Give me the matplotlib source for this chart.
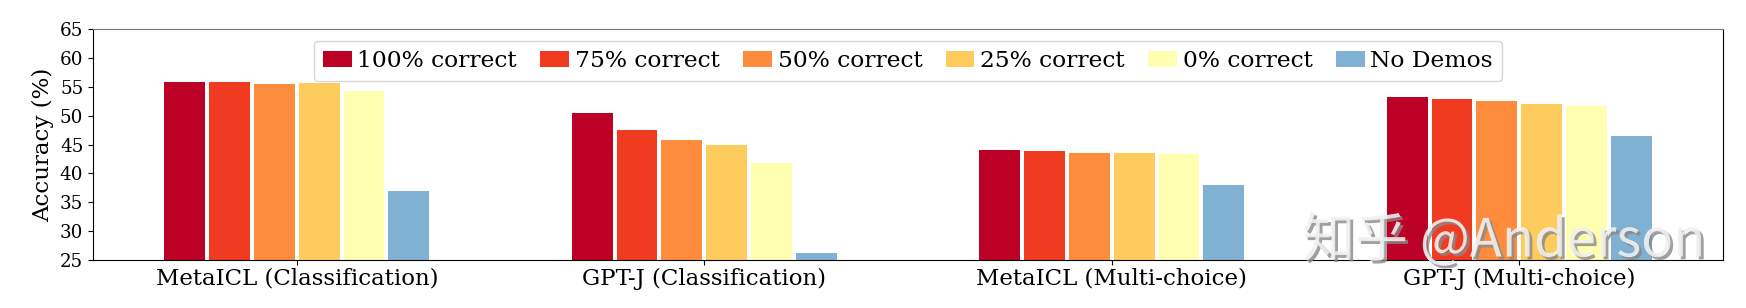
import matplotlib.pyplot as plt
import matplotlib.patheffects as pe
import numpy as np

import matplotlib
matplotlib.rcParams['font.family'] = 'DejaVu Serif'

groups = ['MetaICL (Classification)', 'GPT-J (Classification)',
          'MetaICL (Multi-choice)', 'GPT-J (Multi-choice)']
series = ['100% correct', '75% correct', '50% correct', '25% correct',
          '0% correct', 'No Demos']
acc_100 = [55.8, 50.5, 44.0, 53.2]
acc_75 = [55.8, 47.5, 43.9, 52.9]
acc_50 = [55.5, 45.8, 43.5, 52.5]
acc_25 = [55.7, 44.9, 43.5, 52.0]
acc_0 = [54.3, 41.8, 43.4, 51.7]
acc_none = [36.9, 26.2, 38.0, 46.5]

colors = ['#bd0026', '#f03b20', '#fd8d3c', '#fecc5c', '#ffffb2', '#80b1d3']

x = np.arange(len(groups))  # group centers
step = 0.11
width = 0.1

fig, ax = plt.subplots()
fig.set_size_inches(17.46, 3.08)

data = [acc_100, acc_75, acc_50, acc_25, acc_0, acc_none]
for i, d in enumerate(data):
    ax.bar(x + (i - 2.5) * step, d, width, label=series[i], color=colors[i])

ax.set_ylabel('Accuracy (%)', fontsize=16.5)
ax.set_xticks(x, groups, fontsize=16.5)
ax.tick_params(axis='y', labelsize=13.2)
ax.tick_params(axis='x', pad=2)
ax.set_xlim(-0.5, 3.5)
ax.set_ylim(25, 65)
ax.set_yticks(np.arange(25, 66, 5))
ax.spines['top'].set_color('#777777')

ax.legend(loc='upper center', ncol=6, fontsize=16.8,
          handlelength=1.23, handleheight=0.68, handletextpad=0.25,
          columnspacing=1.0, borderpad=0.4)

# watermark
ax.text(0.742, 0.015, '知乎 @Anderson', transform=ax.transAxes,
        fontsize=38, color='#f0f0f0', alpha=0.9,
        family=['Noto Sans CJK SC', 'DejaVu Sans'],
        path_effects=[pe.withSimplePatchShadow(offset=(2, -2), shadow_rgbFace='#888888', alpha=0.8)])

fig.subplots_adjust(left=93/1746, right=1723/1746, top=1-29/308, bottom=1-260/308)

plt.savefig('out.png', dpi=100)
